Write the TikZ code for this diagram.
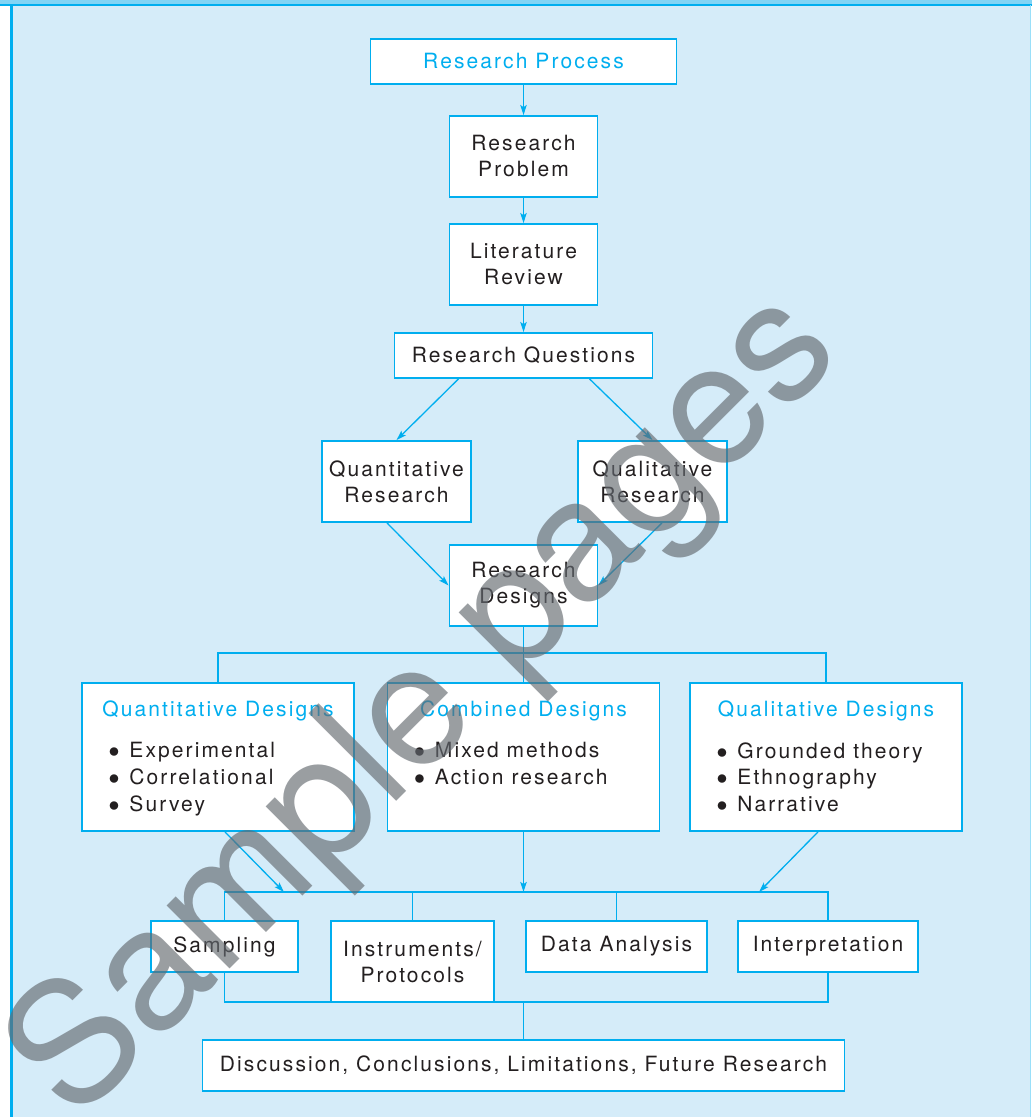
\documentclass[tikz,border=0pt]{standalone}
\usepackage{fontspec}
\setmainfont{TeX Gyre Heros}[LetterSpace=10]
\newfontfamily\markfont{TeX Gyre Heros}
\usetikzlibrary{arrows.meta,positioning,calc}
\definecolor{procblue}{RGB}{0,174,239}
\definecolor{paneblue}{RGB}{213,236,249}
\definecolor{bandblue}{RGB}{130,212,245}
\definecolor{inkgray}{RGB}{35,31,32}
\definecolor{markgray}{RGB}{100,106,112}
\newcommand{\dotitem}{$\bullet$\hspace{5pt}}

\begin{document}
\begin{tikzpicture}[
    x=0.5pt,y=-0.5pt,
    font=\fontsize{10.5}{13}\selectfont,
    >={Stealth[length=5pt,width=3.2pt,inset=1pt]},
    flow/.style={->,draw=procblue,line width=0.65pt},
    link/.style={draw=procblue,line width=0.65pt},
    stage/.style={draw=procblue,fill=white,line width=0.9pt,text=inkgray,
      align=center,inner sep=0pt},
    title/.style={stage,text=procblue},
    design/.style={draw=procblue,fill=white,line width=0.9pt,
      minimum width=136pt,minimum height=74pt,inner sep=0pt},
    head/.style={text=procblue,anchor=base,inner sep=0pt},
    items/.style={text=inkgray,align=left,anchor=north west,inner sep=0pt,
      font=\fontsize{10.5}{13.4}\selectfont},
    watermark/.style={font=\markfont\fontsize{85}{85}\selectfont,
      text=markgray,opacity=0.65,rotate=45}
  ]
    \useasboundingbox (0,0) rectangle (1032,1117);
    \fill[white] (0,0) rectangle (1032,1117);
    \fill[bandblue] (0,0) rectangle (1032,5);
    \fill[paneblue] (11,5) rectangle (1030,1117);
    \draw[procblue,line width=1pt] (0,5) -- (1032,5);
    \draw[procblue,line width=1.5pt] (11,5) -- (11,1117);
    \draw[procblue!40,line width=0.5pt] (1030,5) -- (1030,1117);

    \node[title,minimum width=153pt,minimum height=22.5pt] (proc) at (523.5,61.5) {Research Process};
    \node[stage,minimum width=74pt,minimum height=40.5pt] (problem) at (523.5,156.5) {Research\\Problem};
    \node[stage,minimum width=74pt,minimum height=40.5pt] (review) at (523.5,264.5) {Literature\\Review};
    \node[stage,minimum width=129pt,minimum height=22.5pt] (questions) at (523.5,355.5) {Research Questions};
    \node[stage,minimum width=74.5pt,minimum height=40.5pt] (quantres) at (396.5,481.5) {Quantitative\\Research};
    \node[stage,minimum width=74.5pt,minimum height=40.5pt] (qualres) at (652.5,481.5) {Qualitative\\Research};
    \node[stage,minimum width=74pt,minimum height=40.5pt] (designs) at (523.5,585.5) {Research\\Designs};

    \node[design] (quantdes) at (218,757) {};
    \node[head] (quantdeshead) at ([yshift=-17pt]quantdes.north) {Quantitative Designs};
    \node[items] (quantdeslist) at ([xshift=13.5pt,yshift=-30pt]quantdes.north west)
      {\dotitem Experimental\\\dotitem Correlational\\\dotitem Survey};
    \node[design] (combdes) at (523.5,757) {};
    \node[head] (combdeshead) at ([yshift=-17pt]combdes.north) {Combined Designs};
    \node[items] (combdeslist) at ([xshift=13.5pt,yshift=-30pt]combdes.north west)
      {\dotitem Mixed methods\\\dotitem Action research};
    \node[design] (qualdes) at (826,757) {};
    \node[head] (qualdeshead) at ([yshift=-17pt]qualdes.north) {Qualitative Designs};
    \node[items] (qualdeslist) at ([xshift=13.5pt,yshift=-30pt]qualdes.north west)
      {\dotitem Grounded theory\\\dotitem Ethnography\\\dotitem Narrative};

    \node[stage,minimum width=73.5pt,minimum height=25.5pt] (sampling) at (224.5,946.5) {Sampling};
    \node[stage,minimum width=81.5pt,minimum height=40.5pt] (instruments) at (412.5,961.5) {Instruments/\\Protocols};
    \node[stage,minimum width=90.5pt,minimum height=25.5pt] (analysis) at (616.5,946.5) {Data Analysis};
    \node[stage,minimum width=90pt,minimum height=25.5pt] (interp) at (828,946.5) {Interpretation};
    \node[stage,minimum width=321pt,minimum height=25.5pt] (discussion) at (523.5,1065.5)
      {Discussion, Conclusions, Limitations, Future Research};

    \coordinate (split) at (523.5,653);
    \coordinate (merge) at (523.5,892);
    \coordinate (mergeL) at (284,892);
    \coordinate (mergeR) at (759,892);
    \coordinate (join) at (523.5,1002);

    \draw[flow] (proc) -- (problem);
    \draw[flow] (problem) -- (review);
    \draw[flow] (review) -- (questions);
    \draw[flow] ([xshift=-32.5pt]questions.south) -- (quantres.north);
    \draw[flow] ([xshift=33pt]questions.south) -- (qualres.north);
    \draw[flow] ([xshift=-4.75pt]quantres.south) -- (designs.west);
    \draw[flow] ([xshift=4.75pt]qualres.south) -- (designs.east);

    \draw[link] (designs.south) -- (combdes.north);
    \draw[link] (quantdes.north) |- (split) -| (qualdes.north);

    \draw[flow] ([xshift=3.5pt]quantdes.south) -- (mergeL);
    \draw[flow] (combdes.south) -- (merge);
    \draw[flow] ([xshift=-4pt]qualdes.south) -- (mergeR);
    \draw[link] (sampling.north) |- (merge) -| (interp.north);
    \draw[link] (instruments.north) -- (instruments.north |- merge);
    \draw[link] (analysis.north) -- (analysis.north |- merge);
    \draw[link] (sampling.south) |- (join) -| (interp.south);
    \draw[link] (join) -- (discussion.north);

    \node[watermark] (sample) at (427,708) {Sample pages};
  \end{tikzpicture}
\end{document}
